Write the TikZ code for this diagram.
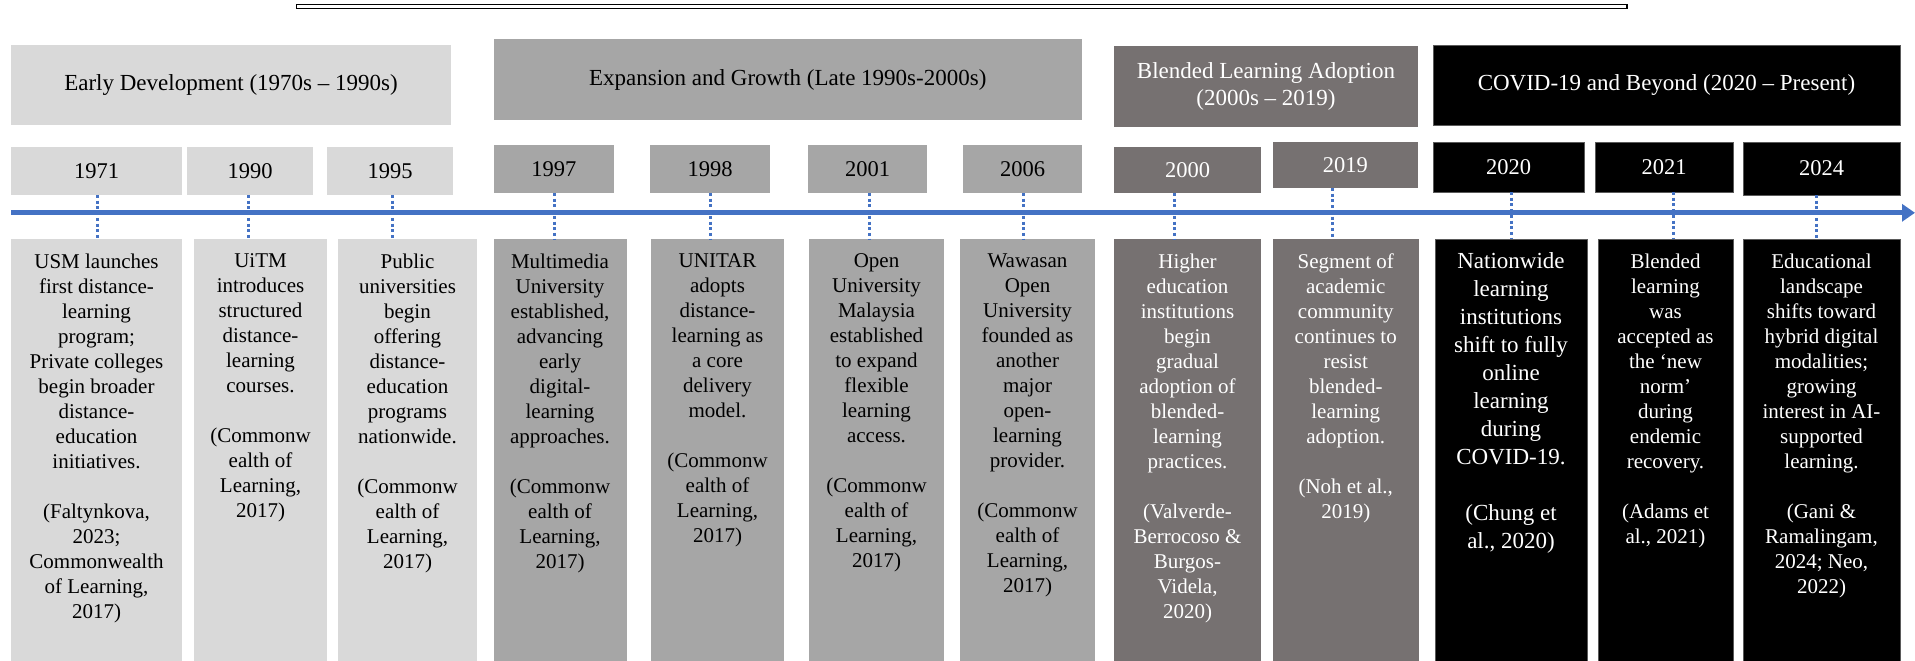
\documentclass[tikz,border=0pt]{standalone}
\usepackage{fontspec}
\setmainfont{Liberation Serif}
\usetikzlibrary{arrows.meta}

\definecolor{earlyfill}{HTML}{D9D9D9}
\definecolor{growfill}{HTML}{A6A6A6}
\definecolor{blendfill}{HTML}{767171}
\definecolor{covidedge}{HTML}{5A5A5A}
\definecolor{axisblue}{HTML}{4472C4}

\tikzset{
  plainbox/.style={rectangle, inner sep=0pt, outer sep=0pt, anchor=north west, align=center},
  earlybox/.style={plainbox, fill=earlyfill, text=black},
  growbox/.style={plainbox, fill=growfill, text=black},
  blendbox/.style={plainbox, fill=blendfill, text=white},
  covidbox/.style={plainbox, fill=black, draw=covidedge, line width=0.8pt, text=white},
  phasefont/.style={font=\fontsize{23}{27.7}\selectfont},
  yearfont/.style={font=\fontsize{22.5}{27}\selectfont},
  desctext/.style={anchor=north, align=center, inner sep=0pt, text=black,
               font=\fontsize{21}{25}\selectfont},
  desctextw/.style={desctext, text=white},
  leader/.style={draw=axisblue, line width=3pt, dash pattern=on 3pt off 2.7pt},
  timeaxis/.style={draw=axisblue, line width=5pt, -{Triangle[length=13pt,width=17pt]}},
}

\begin{document}
\begin{tikzpicture}[x=1pt, y=-1pt]
\useasboundingbox (0,0) rectangle (1915,661);

% heading rule
\draw[black, line width=1.3pt] (296.5,4.6) rectangle (1627,8.2);

% ---- phase headers ----
\node[earlybox, phasefont, minimum width=440pt, minimum height=80pt] (pEarly) at (11,45)
  {Early Development (1970s – 1990s)};
\node[growbox, phasefont, minimum width=588.5pt, minimum height=81pt] (pGrow) at (493.5,39)
  {Expansion and Growth (Late 1990s-2000s)};
\node[blendbox, phasefont, minimum width=304pt, minimum height=81pt] (pBlend) at (1114,46)
  {Blended Learning Adoption\\(2000s – 2019)};
\node[covidbox, phasefont, minimum width=467pt, minimum height=80pt] (pCovid) at (1433,45)
  {COVID-19 and Beyond (2020 – Present)};

% ---- year boxes ----
\node[earlybox, yearfont, minimum width=171pt, minimum height=48pt] (y1971) at (11,147) {1971};
\node[earlybox, yearfont, minimum width=126pt, minimum height=48pt] (y1990) at (187,147) {1990};
\node[earlybox, yearfont, minimum width=126pt, minimum height=48pt] (y1995) at (327,147) {1995};
\node[growbox, yearfont, minimum width=120.5pt, minimum height=48pt] (y1997) at (493.5,145) {1997};
\node[growbox, yearfont, minimum width=120pt, minimum height=48pt] (y1998) at (650,145) {1998};
\node[growbox, yearfont, minimum width=119pt, minimum height=48pt] (y2001) at (808,145) {2001};
\node[growbox, yearfont, minimum width=119pt, minimum height=48pt] (y2006) at (963,145) {2006};
\node[blendbox, yearfont, minimum width=147pt, minimum height=46pt] (y2000) at (1114,147) {2000};
\node[blendbox, yearfont, minimum width=145.5pt, minimum height=46pt] (y2019) at (1272.5,142) {2019};
\node[covidbox, yearfont, minimum width=151pt, minimum height=50pt] (y2020) at (1433,142) {2020};
\node[covidbox, yearfont, minimum width=138pt, minimum height=50pt] (y2021) at (1595,142) {2021};
\node[covidbox, yearfont, minimum width=157pt, minimum height=53pt] (y2024) at (1743,142) {2024};

% ---- description panels ----
\node[earlybox, minimum width=171pt, minimum height=422pt] (d1971) at (11,239) {};
\node[earlybox, minimum width=133pt, minimum height=422pt] (d1990) at (194,239) {};
\node[earlybox, minimum width=139pt, minimum height=422pt] (d1995) at (338,239) {};
\node[growbox, minimum width=133pt, minimum height=422pt] (d1997) at (493.5,239) {};
\node[growbox, minimum width=133pt, minimum height=422pt] (d1998) at (651,239) {};
\node[growbox, minimum width=135pt, minimum height=422pt] (d2001) at (809,239) {};
\node[growbox, minimum width=135pt, minimum height=422pt] (d2006) at (960,239) {};
\node[blendbox, minimum width=147pt, minimum height=422pt] (d2000) at (1114,239) {};
\node[blendbox, minimum width=146.5pt, minimum height=422pt] (d2019) at (1272.5,239) {};
\node[covidbox, minimum width=152pt, minimum height=425pt] (d2020) at (1435,239) {};
\node[covidbox, minimum width=135pt, minimum height=425pt] (d2021) at (1598,239) {};
\node[covidbox, minimum width=157pt, minimum height=425pt] (d2024) at (1743,239) {};

% ---- description texts ----
\node[desctext] (t1971) at ([yshift=-14.5pt]d1971.north) {USM launches\\first distance-\\learning\\program;\\Private colleges\\begin broader\\distance-\\education\\initiatives.\\[25pt](Faltynkova,\\2023;\\Commonwealth\\of Learning,\\2017)};
\node[desctext] (t1990) at ([yshift=-14.5pt]d1990.north) {UiTM\\introduces\\structured\\distance-\\learning\\courses.\\[25pt](Commonw\\ealth of\\Learning,\\2017)};
\node[desctext] (t1995) at ([yshift=-14.5pt]d1995.north) {Public\\universities\\begin\\offering\\distance-\\education\\programs\\nationwide.\\[25pt](Commonw\\ealth of\\Learning,\\2017)};
\node[desctext] (t1997) at ([yshift=-14.5pt]d1997.north) {Multimedia\\University\\established,\\advancing\\early\\digital-\\learning\\approaches.\\[25pt](Commonw\\ealth of\\Learning,\\2017)};
\node[desctext] (t1998) at ([yshift=-14.5pt]d1998.north) {UNITAR\\adopts\\distance-\\learning as\\a core\\delivery\\model.\\[25pt](Commonw\\ealth of\\Learning,\\2017)};
\node[desctext] (t2001) at ([yshift=-14.5pt]d2001.north) {Open\\University\\Malaysia\\established\\to expand\\flexible\\learning\\access.\\[25pt](Commonw\\ealth of\\Learning,\\2017)};
\node[desctext] (t2006) at ([yshift=-14.5pt]d2006.north) {Wawasan\\Open\\University\\founded as\\another\\major\\open-\\learning\\provider.\\[25pt](Commonw\\ealth of\\Learning,\\2017)};
\node[desctextw] (t2000) at ([yshift=-14.5pt]d2000.north) {Higher\\education\\institutions\\begin\\gradual\\adoption of\\blended-\\learning\\practices.\\[25pt](Valverde-\\Berrocoso \&\\Burgos-\\Videla,\\2020)};
\node[desctextw] (t2019) at ([yshift=-14.5pt]d2019.north) {Segment of\\academic\\community\\continues to\\resist\\blended-\\learning\\adoption.\\[25pt](Noh et al.,\\2019)};
\node[desctextw, font=\fontsize{23}{28}\selectfont] (t2020) at ([yshift=-13.6pt]d2020.north) {Nationwide\\learning\\institutions\\shift to fully\\online\\learning\\during\\COVID-19.\\[28pt](Chung et\\al., 2020)};
\node[desctextw] (t2021) at ([yshift=-14.5pt]d2021.north) {Blended\\learning\\was\\accepted as\\the ‘new\\norm’\\during\\endemic\\recovery.\\[25pt](Adams et\\al., 2021)};
\node[desctextw] (t2024) at ([yshift=-14.5pt]d2024.north) {Educational\\landscape\\shifts toward\\hybrid digital\\modalities;\\growing\\interest in AI-\\supported\\learning.\\[25pt](Gani \&\\Ramalingam,\\2024; Neo,\\2022)};

% ---- dotted leaders from years to panels ----
\draw[leader] ([xshift=0.5pt]y1971.south) -- ([xshift=0.5pt]y1971.south |- d1971.north);
\draw[leader] ([xshift=-2pt]y1990.south) -- ([xshift=-2pt]y1990.south |- d1990.north);
\draw[leader] ([xshift=2pt]y1995.south) -- ([xshift=2pt]y1995.south |- d1995.north);
\draw[leader] ([xshift=1pt]y1997.south) -- ([xshift=1pt]y1997.south |- d1997.north);
\draw[leader] (y1998.south) -- (y1998.south |- d1998.north);
\draw[leader] ([xshift=1.5pt]y2001.south) -- ([xshift=1.5pt]y2001.south |- d2001.north);
\draw[leader] ([xshift=0.5pt]y2006.south) -- ([xshift=0.5pt]y2006.south |- d2006.north);
\draw[leader] ([xshift=-13.5pt]y2000.south) -- ([xshift=-13.5pt]y2000.south |- d2000.north);
\draw[leader] ([xshift=-13pt]y2019.south) -- ([xshift=-13pt]y2019.south |- d2019.north);
\draw[leader] ([xshift=2.5pt]y2020.south) -- ([xshift=2.5pt]y2020.south |- d2020.north);
\draw[leader] ([xshift=9pt]y2021.south) -- ([xshift=9pt]y2021.south |- d2021.north);
\draw[leader] ([xshift=-5.5pt]y2024.south) -- ([xshift=-5.5pt]y2024.south |- d2024.north);

% ---- time axis ----
\coordinate (axisStart) at (11,212.8);
\coordinate (axisEnd) at (1915,212.8);
\draw[timeaxis] (axisStart) -- (axisEnd);

\end{tikzpicture}
\end{document}
